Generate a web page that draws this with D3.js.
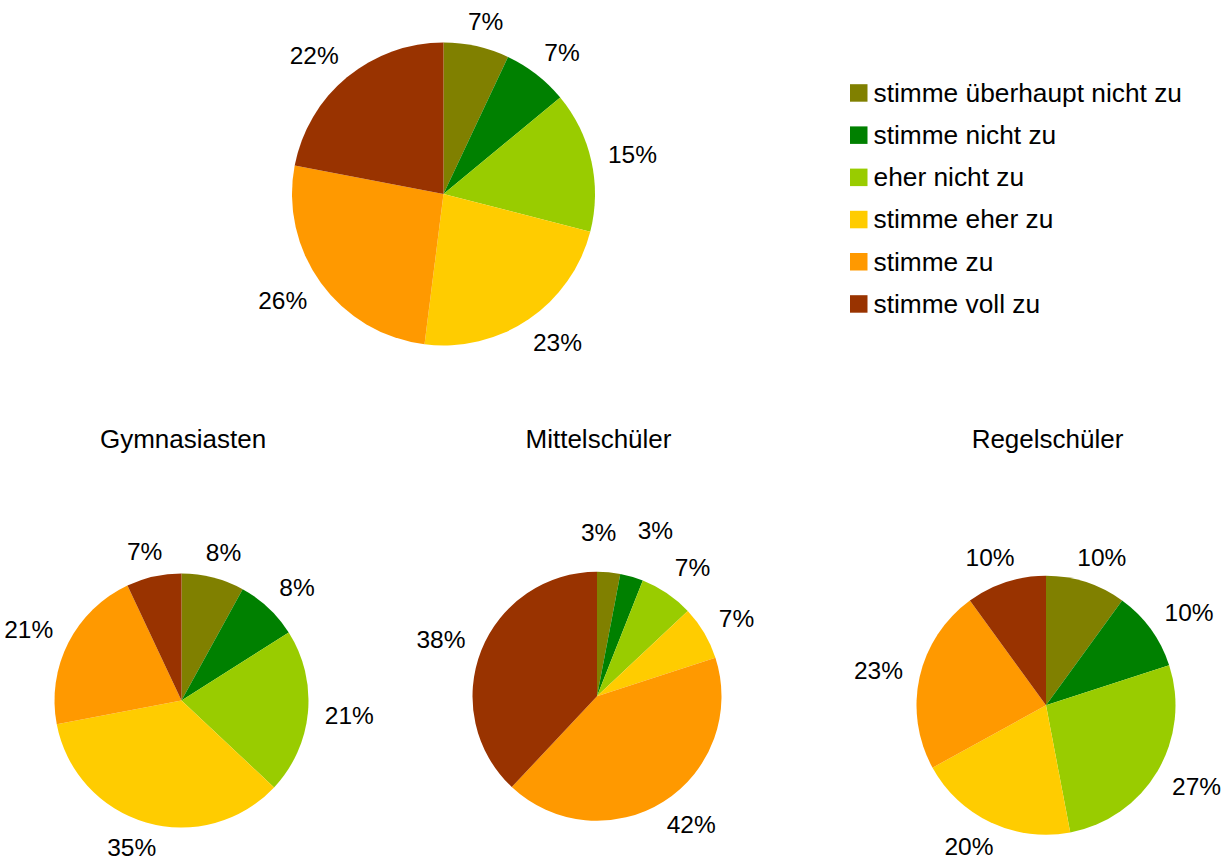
<!DOCTYPE html>
<html><head><meta charset="utf-8">
<script src="https://cdn.jsdelivr.net/npm/d3@7"></script>
<style>
body{margin:0;background:#fff}
text{font-family:"Liberation Sans",Arial,Helvetica,sans-serif;fill:#000}
</style>
</head><body>
<svg id="chart" width="1225" height="863"></svg>
<script>
// Answer categories and their colours
const categories = ["stimme überhaupt nicht zu", "stimme nicht zu", "eher nicht zu", "stimme eher zu", "stimme zu", "stimme voll zu"];
const colors = ["#808000", "#008000", "#99cc00", "#ffcc00", "#ff9900", "#993300"];

// Percentages per group
const gesamt = [7, 7, 15, 23, 26, 22];
const gymnasiasten = [8, 8, 21, 35, 21, 7];
const mittelschueler = [3, 3, 7, 7, 42, 38];
const regelschueler = [10, 10, 27, 20, 23, 10];
const groupTitles = ["", "Gymnasiasten", "Mittelschüler", "Regelschüler"];

const svg = d3.select("#chart");
svg.append("rect").attr("width", 1225).attr("height", 863).attr("fill", "#fff");

const color = d3.scaleOrdinal().domain(categories).range(colors);

const charts = [
  {values: gesamt, title: groupTitles[0], cx: 443.5, cy: 194, r: 151.5},
  {values: gymnasiasten, title: groupTitles[1], cx: 181.5, cy: 700.5, r: 127},
  {values: mittelschueler, title: groupTitles[2], cx: 597, cy: 696.3, r: 124.5},
  {values: regelschueler, title: groupTitles[3], cx: 1046, cy: 705.3, r: 129.5}
];

const pie = d3.pie().sort(null).value(d => d.v);
const labelSize = 24.5;
const capH = labelSize * 0.716;
const gap = 17;
const clamp = v => Math.max(-1, Math.min(1, v));

charts.forEach(c => {
  const g = svg.append("g").attr("transform", `translate(${c.cx},${c.cy})`);
  const data = c.values.map((v, i) => ({v, cat: categories[i]}));
  const arcs = pie(data);
  const arc = d3.arc().innerRadius(0).outerRadius(c.r);

  g.selectAll("path.slice").data(arcs).join("path")
    .attr("class", "slice")
    .attr("d", arc)
    .attr("fill", d => color(d.data.cat));

  // percentage labels outside the pie
  const labels = g.selectAll("text.pct").data(arcs).join("text")
    .attr("class", "pct")
    .attr("text-anchor", "middle")
    .style("font-size", labelSize + "px")
    .text(d => d.data.v + "%");

  const boxes = [];
  labels.each(function(d) {
    const w = this.getComputedTextLength();
    const a = (d.startAngle + d.endAngle) / 2;
    const s = Math.sin(a), co = Math.cos(a);
    const R = c.r + gap;
    const x = R * s + (w / 2) * clamp(s * 1.4);
    const y = -R * co + (capH / 2) * clamp(-co * 1.4);
    boxes.push({node: this, x, y, w, h: capH});
  });

  // spread neighbouring labels apart when they overlap
  for (let it = 0; it < 200; it++) {
    let moved = false;
    for (let i = 0; i < boxes.length; i++) {
      for (let j = i + 1; j < boxes.length; j++) {
        const a = boxes[i], b = boxes[j];
        const ox = (a.w + b.w) / 2 + 20 - Math.abs(a.x - b.x);
        const oy = (a.h + b.h) / 2 + 4 - Math.abs(a.y - b.y);
        if (ox > 0 && oy > 0) {
          const dir = a.x <= b.x ? -1 : 1;
          a.x += dir; b.x -= dir;
          a.y -= 1; b.y -= 1.4;
          moved = true;
        }
      }
    }
    if (!moved) break;
  }
  boxes.forEach(b => d3.select(b.node).attr("x", b.x).attr("y", b.y + b.h / 2));

  if (c.title) {
    svg.append("text")
      .attr("x", c.cx + 1.5).attr("y", 448)
      .attr("text-anchor", "middle")
      .style("font-size", "26px")
      .text(c.title);
  }
});

// legend
const legend = svg.append("g").attr("transform", "translate(850,84.2)");
const rows = legend.selectAll("g").data(categories).join("g")
  .attr("transform", (d, i) => `translate(0,${i * 42.2})`);
rows.append("rect").attr("width", 17.5).attr("height", 17.5).attr("fill", d => color(d));
rows.append("text").attr("x", 23.5).attr("y", 17.5)
  .style("font-size", "26.3px")
  .text(d => d);
</script>
</body></html>
